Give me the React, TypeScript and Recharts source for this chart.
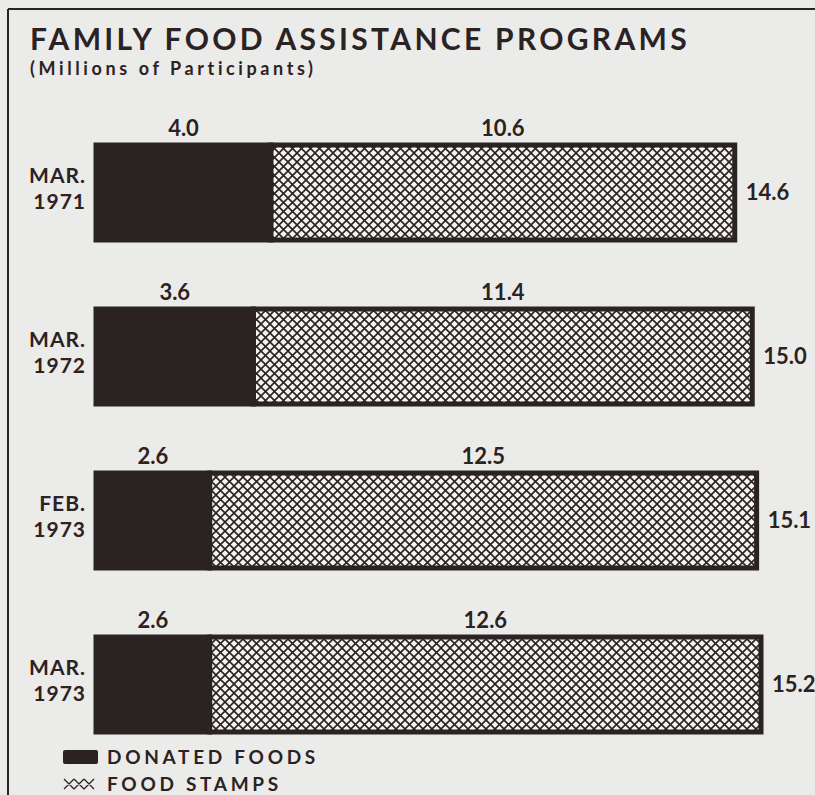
import React from 'react';
import { BarChart, Bar, XAxis, YAxis, LabelList } from 'recharts';

const months = ['MAR.', 'MAR.', 'FEB.', 'MAR.'];
const years = ['1971', '1972', '1973', '1973'];
const donatedFoods = [4.0, 3.6, 2.6, 2.6];
const foodStamps = [10.6, 11.4, 12.5, 12.6];
const totals = [14.6, 15.0, 15.1, 15.2];

const data = months.map((m, i) => ({
  label: `${m} ${years[i]}`,
  month: m,
  year: years[i],
  donated: donatedFoods[i],
  stamps: foodStamps[i],
  total: totals[i],
}));

const DARK = '#2b2223';
const BG = '#ebebe9';
const FONT = 'Lato, "DejaVu Sans", sans-serif';

const YTick = (props: any) => {
  const { x, y, payload } = props;
  const d = data[payload.index] || data.find((r) => r.label === payload.value);
  return (
    <g>
      <text x={x - 2} y={y - 9} textAnchor="end" fontFamily={FONT} fontWeight={700} fontSize={21} fill={DARK} letterSpacing={1}>
        {d ? d.month : ''}
      </text>
      <text x={x - 2} y={y + 17} textAnchor="end" fontFamily={FONT} fontWeight={700} fontSize={21} fill={DARK} letterSpacing={1}>
        {d ? d.year : ''}
      </text>
    </g>
  );
};

const fmt = (v: any) => Number(v).toFixed(1);

const labelStyle = { fill: DARK, fontFamily: FONT, fontWeight: 700, fontSize: 22 };

export default function App() {
  return (
    <div style={{ position: 'absolute', left: 0, top: 0, width: 815, height: 795, background: BG, overflow: 'hidden' }}>
      <svg width={815} height={795} style={{ position: 'absolute', left: 0, top: 0 }}>
        <line x1={8} y1={9} x2={815} y2={9} stroke={DARK} strokeWidth={2} />
        <line x1={8} y1={9} x2={8} y2={795} stroke={DARK} strokeWidth={2} />
        <text x={30} y={50} fontFamily={FONT} fontWeight={700} fontSize={30} letterSpacing={3.3} fill={DARK}>
          FAMILY FOOD ASSISTANCE PROGRAMS
        </text>
        <text x={30} y={75} fontFamily={FONT} fontWeight={700} fontSize={18} letterSpacing={3.6} fill={DARK}>
          (Millions of Participants)
        </text>
        <rect x={63} y={750} width={35} height={14} fill={DARK} rx={2} />
        <text x={107} y={764} fontFamily={FONT} fontWeight={700} fontSize={19} letterSpacing={3.7} fill={DARK}>
          DONATED FOODS
        </text>
        <path d="M64,779 L74,789 M74,779 L64,789 M74,779 L84,789 M84,779 L74,789 M84,779 L94,789 M94,779 L84,789" stroke={DARK} strokeWidth={1.3} fill="none" />
        <text x={107} y={791} fontFamily={FONT} fontWeight={700} fontSize={19} letterSpacing={3.7} fill={DARK}>
          FOOD STAMPS
        </text>
      </svg>
      <div style={{ position: 'absolute', left: 0, top: 0 }}>
        <BarChart width={815} height={795} data={data} layout="vertical" margin={{ top: 110, right: 19, bottom: 29, left: 0 }} barCategoryGap={0}>
          <defs>
            <pattern id="hatch" patternUnits="userSpaceOnUse" width={9} height={9}>
              <rect width={9} height={9} fill="#f3f3f1" />
              <path d="M-1,-1 L10,10 M10,-1 L-1,10" stroke={DARK} strokeWidth={1.6} />
            </pattern>
          </defs>
          <XAxis type="number" domain={[0, 16]} hide />
          <YAxis type="category" dataKey="label" width={96} axisLine={false} tickLine={false} tick={<YTick />} interval={0} />
          <Bar dataKey="donated" stackId="a" fill={DARK} stroke={DARK} strokeWidth={5} barSize={95} isAnimationActive={false}>
            <LabelList dataKey="donated" position="top" offset={9} formatter={fmt} {...labelStyle} />
          </Bar>
          <Bar dataKey="stamps" stackId="a" fill="url(#hatch)" stroke={DARK} strokeWidth={5} barSize={95} isAnimationActive={false}>
            <LabelList dataKey="stamps" position="top" offset={9} formatter={fmt} {...labelStyle} />
            <LabelList dataKey="total" position="right" offset={11} formatter={fmt} {...labelStyle} />
          </Bar>
        </BarChart>
      </div>
    </div>
  );
}
